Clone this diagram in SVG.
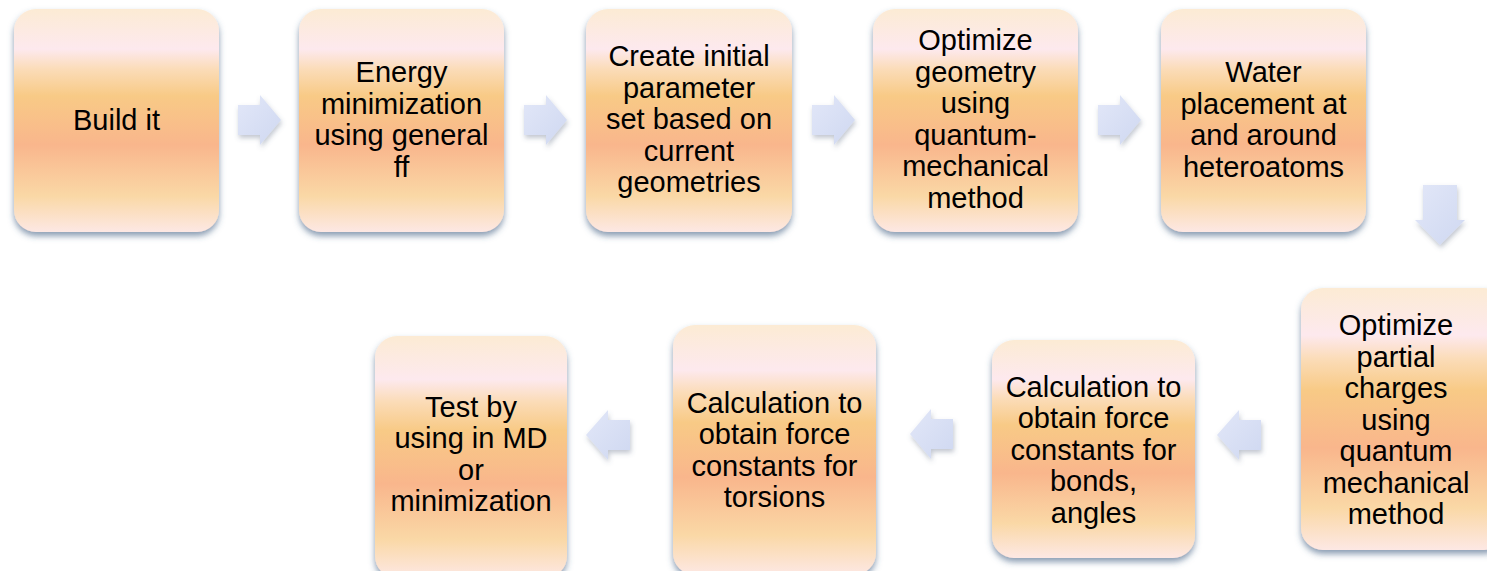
<svg xmlns="http://www.w3.org/2000/svg" width="1487" height="571" viewBox="0 0 1487 571">
<defs>
<linearGradient id="boxg" x1="0" y1="0" x2="0" y2="1">
<stop offset="0" stop-color="#fcebd4"/>
<stop offset="0.18" stop-color="#fde9ee"/>
<stop offset="0.27" stop-color="#fbdcb8"/>
<stop offset="0.39" stop-color="#f8ca86"/>
<stop offset="0.61" stop-color="#f9b68c"/>
<stop offset="0.84" stop-color="#fad8a6"/>
<stop offset="1" stop-color="#fde8e4"/>
</linearGradient>
<linearGradient id="arrg" x1="0" y1="0" x2="1" y2="1">
<stop offset="0" stop-color="#e2e7f8"/>
<stop offset="1" stop-color="#cfd8f1"/>
</linearGradient>
<filter id="sh" x="-10%" y="-10%" width="125%" height="125%">
<feDropShadow dx="0" dy="4" stdDeviation="3" flood-color="#3c5a80" flood-opacity="0.6"/>
</filter>
<filter id="ash" x="-20%" y="-20%" width="150%" height="150%">
<feDropShadow dx="1" dy="3" stdDeviation="2.5" flood-color="#50607a" flood-opacity="0.35"/>
</filter>
</defs>
<style>
.box{fill:url(#boxg);filter:url(#sh);}
.t{font-family:"Liberation Sans",Arial,sans-serif;font-size:29px;fill:#000;text-anchor:middle;}
.arr{fill:url(#arrg);filter:url(#ash);}
</style>
<g id="connectors">
<path class="arr" d="M238,105 H260 V95 L281,120 L260,145 V135 H238 Z"/>
<path class="arr" d="M524,105 H546 V95 L567,120 L546,145 V135 H524 Z"/>
<path class="arr" d="M812,105 H834 V95 L855,120 L834,145 V135 H812 Z"/>
<path class="arr" d="M1098,105 H1120 V95 L1141,120 L1120,145 V135 H1098 Z"/>
<path class="arr" d="M1423,185 H1457 V220 H1465 L1440,245 L1415,220 H1423 Z"/>
<path class="arr" d="M1261,420 H1239 V410 L1217,435 L1239,460 V450 H1261 Z"/>
<path class="arr" d="M953,419 H931 V409 L910,434 L931,459 V449 H953 Z"/>
<path class="arr" d="M630,420 H608 V410 L586,435 L608,460 V450 H630 Z"/>
</g>
<g id="n1">
<rect class="box" x="14" y="9" width="205" height="223" rx="22"/>
<text class="t" x="116.5" y="130">Build it</text>
</g>
<g id="n2">
<rect class="box" x="299" y="9" width="205" height="223" rx="22"/>
<text class="t" x="401.5" y="82">Energy</text>
<text class="t" x="401.5" y="113.5">minimization</text>
<text class="t" x="401.5" y="145">using general</text>
<text class="t" x="401.5" y="176.5">ff</text>
</g>
<g id="n3">
<rect class="box" x="586" y="9" width="206" height="223" rx="22"/>
<text class="t" x="689" y="66">Create initial</text>
<text class="t" x="689" y="97.5">parameter</text>
<text class="t" x="689" y="129">set based on</text>
<text class="t" x="689" y="160.5">current</text>
<text class="t" x="689" y="192">geometries</text>
</g>
<g id="n4">
<rect class="box" x="873" y="9" width="205" height="223" rx="22"/>
<text class="t" x="975.5" y="50">Optimize</text>
<text class="t" x="975.5" y="81.5">geometry</text>
<text class="t" x="975.5" y="113">using</text>
<text class="t" x="975.5" y="144.5">quantum-</text>
<text class="t" x="975.5" y="176">mechanical</text>
<text class="t" x="975.5" y="207.5">method</text>
</g>
<g id="n5">
<rect class="box" x="1161" y="9" width="205" height="223" rx="22"/>
<text class="t" x="1263.5" y="82">Water</text>
<text class="t" x="1263.5" y="113.5">placement at</text>
<text class="t" x="1263.5" y="145">and around</text>
<text class="t" x="1263.5" y="176.5">heteroatoms</text>
</g>
<g id="n6">
<rect class="box" x="1301" y="288" width="205" height="262" rx="22"/>
<text class="t" x="1396" y="335">Optimize</text>
<text class="t" x="1396" y="366.5">partial</text>
<text class="t" x="1396" y="398">charges</text>
<text class="t" x="1396" y="429.5">using</text>
<text class="t" x="1396" y="461">quantum</text>
<text class="t" x="1396" y="492.5">mechanical</text>
<text class="t" x="1396" y="524">method</text>
</g>
<g id="n7">
<rect class="box" x="992" y="340" width="203" height="218" rx="22"/>
<text class="t" x="1093.5" y="396.5">Calculation to</text>
<text class="t" x="1093.5" y="428">obtain force</text>
<text class="t" x="1093.5" y="459.5">constants for</text>
<text class="t" x="1093.5" y="491">bonds,</text>
<text class="t" x="1093.5" y="522.5">angles</text>
</g>
<g id="n8">
<rect class="box" x="673" y="325" width="203" height="250" rx="22"/>
<text class="t" x="774.5" y="412.5">Calculation to</text>
<text class="t" x="774.5" y="444">obtain force</text>
<text class="t" x="774.5" y="475.5">constants for</text>
<text class="t" x="774.5" y="507">torsions</text>
</g>
<g id="n9">
<rect class="box" x="375" y="336" width="192" height="242" rx="22"/>
<text class="t" x="471" y="416.5">Test by</text>
<text class="t" x="471" y="448">using in MD</text>
<text class="t" x="471" y="479.5">or</text>
<text class="t" x="471" y="511">minimization</text>
</g>
</svg>
